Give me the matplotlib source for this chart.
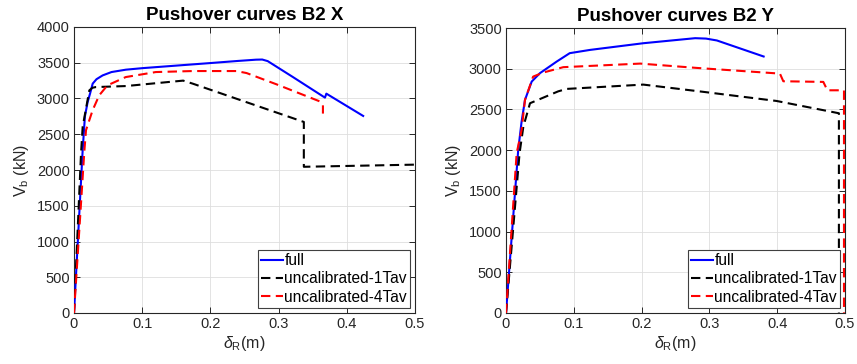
import matplotlib
matplotlib.use("Agg")
import matplotlib.pyplot as plt
import numpy as np

plt.rcParams['font.family'] = ['Liberation Sans', 'DejaVu Sans']
plt.rcParams['mathtext.fontset'] = 'custom'
plt.rcParams['mathtext.rm'] = 'Liberation Sans'
plt.rcParams['mathtext.it'] = 'Liberation Sans:italic'
plt.rcParams['mathtext.bf'] = 'Liberation Sans:bold'

# ---- Data: B2 X ----
x_full_X = [0, 0.0127, 0.016, 0.0200, 0.0235, 0.0274, 0.033, 0.042, 0.055, 0.076, 0.101, 0.15, 0.199, 0.24, 0.267, 0.276, 0.284, 0.321, 0.368, 0.370, 0.424]
y_full_X = [0, 2278, 2750, 2950, 3068, 3208, 3270, 3323, 3370, 3403, 3425, 3460, 3495, 3525, 3543, 3545, 3523, 3300, 3012, 3068, 2756]

x_1tav_X = [0, 0.0103, 0.0127, 0.0225, 0.027, 0.032, 0.076, 0.160, 0.174, 0.337, 0.337, 0.5]
y_1tav_X = [0, 2231, 2603, 3114, 3150, 3160, 3174, 3250, 3208, 2672, 2045, 2075]

x_4tav_X = [0, 0.0151, 0.0176, 0.0273, 0.037, 0.049, 0.076, 0.120, 0.174, 0.238, 0.253, 0.297, 0.360, 0.365, 0.365]
y_4tav_X = [0, 2254, 2557, 2836, 3045, 3184, 3300, 3370, 3384, 3384, 3356, 3198, 2961, 2905, 2789]

# ---- Data: B2 Y ----
x_full_Y = [0, 0.018, 0.023, 0.028, 0.0379, 0.050, 0.0748, 0.094, 0.124, 0.2025, 0.279, 0.295, 0.311, 0.380]
y_full_Y = [0, 2002, 2350, 2617, 2842, 2945, 3088, 3191, 3231, 3313, 3375, 3370, 3347, 3150]

x_1tav_Y = [0, 0.020, 0.0256, 0.0354, 0.077, 0.0895, 0.2025, 0.291, 0.399, 0.491, 0.491]
y_1tav_Y = [0, 1962, 2289, 2576, 2722, 2752, 2805, 2716, 2604, 2453, 0]

x_4tav_Y = [0, 0.0157, 0.023, 0.028, 0.040, 0.055, 0.0845, 0.198, 0.281, 0.404, 0.409, 0.468, 0.474, 0.4985, 0.4985]
y_4tav_Y = [0, 1962, 2248, 2617, 2903, 2953, 3019, 3063, 3010, 2940, 2846, 2838, 2735, 2735, 0]

x_ticks = [0, 0.1, 0.2, 0.3, 0.4, 0.5]
x_ticklabels = ['0', '0.1', '0.2', '0.3', '0.4', '0.5']
labels = ['full', 'uncalibrated-1Tav', 'uncalibrated-4Tav']
titles = ['Pushover curves B2 X', 'Pushover curves B2 Y']

W, H = 857, 364
fig = plt.figure(figsize=(W / 100, H / 100), dpi=100)

def pos(l, r, t, b):
    return [l / W, 1 - b / H, (r - l) / W, (b - t) / H]

axL = fig.add_axes(pos(74, 415, 27, 313))
axR = fig.add_axes(pos(506, 845, 28, 313))

datasets = [
    (axL, (x_full_X, y_full_X), (x_1tav_X, y_1tav_X), (x_4tav_X, y_4tav_X), 4000),
    (axR, (x_full_Y, y_full_Y), (x_1tav_Y, y_1tav_Y), (x_4tav_Y, y_4tav_Y), 3500),
]

dark = '#262626'
for i, (ax, full, t1, t4, ymax) in enumerate(datasets):
    ax.plot(full[0], full[1], color='#0000ff', lw=1.5, label=labels[0], zorder=3)
    ax.plot(t1[0], t1[1], color='black', lw=1.5, dashes=[4.5, 2.6], label=labels[1], zorder=3)
    ax.plot(t4[0], t4[1], color='#ff0000', lw=1.5, dashes=[4.5, 2.6], label=labels[2], zorder=3)
    ax.set_xlim(0, 0.5)
    ax.set_ylim(0, ymax)
    ax.set_xticks(x_ticks)
    ax.set_xticklabels(x_ticklabels)
    ax.set_yticks(np.arange(0, ymax + 1, 500))
    ax.grid(True, color='#dedede', lw=0.6)
    ax.set_axisbelow(True)
    ax.tick_params(direction='in', top=True, right=True, labelsize=10.5,
                   colors=dark, length=4, width=0.7, pad=3)
    for s in ax.spines.values():
        s.set_color(dark)
        s.set_linewidth(0.8)
    ax.set_title(titles[i], fontsize=13.5, fontweight='bold', pad=5)
    ax.set_xlabel(r'$\delta_\mathregular{R}$(m)', fontsize=11.5, color=dark, labelpad=2)
    ax.set_ylabel(r'V$_\mathregular{b}$ (kN)', fontsize=11.5, color=dark, labelpad=4)
    leg = ax.legend(loc='lower right', fontsize=11.2, handlelength=1.4, handletextpad=0.1,
                    borderaxespad=0.3, fancybox=False, framealpha=1, edgecolor='#404040',
                    borderpad=0.22, labelspacing=0.22)
    leg.get_frame().set_linewidth(0.8)

fig.savefig('out.png', dpi=100)
